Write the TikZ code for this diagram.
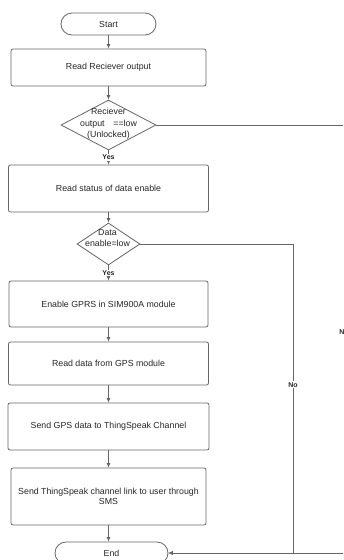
\documentclass[tikz,border=0pt]{standalone}
\usepackage{fontspec}
\setmainfont{Liberation Sans}
\usetikzlibrary{calc}
\usetikzlibrary{arrows.meta}
\usetikzlibrary{shapes.geometric}
\colorlet{border}{black!60}
\colorlet{annotation}{black!85}
\newcommand\pagewidth{343}
\newcommand\pageheight{560}
\newcommand\flowx{108.5}
\newcommand\midrail{293}
\newcommand\rightrail{344}

\begin{document}
\begin{tikzpicture}[x=1pt, y=-1pt, line width=.8pt]
    \useasboundingbox (0, 0) rectangle (\pagewidth, \pageheight);
    \clip (0, 0) rectangle (\pagewidth, \pageheight);

    \tikzset{
        terminal/.style={
            draw=border, rectangle,
            rounded corners=11pt,
            minimum height=22pt,
            text=annotation,
            font=\fontsize{8.8}{10.5}\selectfont,
        },
        process box/.style={
            draw=border, rectangle,
            rounded corners=2pt,
            align=center,
            text=annotation,
            font=\fontsize{8.8}{10.5}\selectfont,
        },
        decision/.style={
            draw=border, diamond,
            inner sep=0pt,
        },
        decision text/.style={
            align=center, inner sep=0pt,
            text=annotation,
            font=\fontsize{8.8}{11.5}\selectfont,
        },
        flow/.style={
            border,
            -{Latex[length=4.5pt, width=4pt]},
        },
        branch tag/.style={
            fill=white, inner sep=1pt,
            text=annotation,
            font=\fontsize{7}{8}\selectfont\bfseries,
        },
    }

    % Terminals
    \node[terminal, minimum width=95pt] (start) at (\flowx, 24) {Start};
    \node[terminal, minimum width=113pt] (end) at (111.5, 553) {End};

    % Steps
    \node[process box, minimum width=195pt, minimum height=37pt]
        (read-receiver) at (\flowx, 67.5) {Read Reciever output};
    \node[process box, minimum width=200pt, minimum height=47pt]
        (read-enable) at (\flowx, 188.5) {Read status of data enable};
    \node[process box, minimum width=199pt, minimum height=46pt]
        (enable-gprs) at (\flowx, 304) {Enable GPRS in SIM900A module};
    \node[process box, minimum width=200pt, minimum height=43pt]
        (read-gps) at (\flowx, 363.5) {Read data from GPS module};
    \node[process box, minimum width=201pt, minimum height=47pt]
        (send-gps) at (\flowx, 426.5) {Send GPS data to ThingSpeak Channel};
    \node[process box, minimum width=195pt, minimum height=57pt]
        (send-link) at (\flowx, 496.5)
        {Send ThingSpeak channel link to user through\\SMS};

    % Checks
    \node[decision, minimum width=95pt, minimum height=50pt]
        (receiver-check) at (\flowx, 125) {};
    \node[decision text] (receiver-check-text) at ($(receiver-check)+(0, -1)$)
        {Reciever\\output\quad ==low\\(Unlocked)};

    \node[decision, minimum width=63pt, minimum height=42pt]
        (enable-check) at (\flowx, 244) {};
    \node[decision text] (enable-check-text) at ($(enable-check)+(-1, -6)$)
        {Data\\enable=low};

    % Main flow
    \draw[flow] (start) -- (read-receiver);
    \draw[flow] (read-receiver) -- (receiver-check);
    \draw[flow] (receiver-check) -- node[branch tag] (receiver-yes) {Yes} (read-enable);
    \draw[flow] (read-enable) -- (enable-check);
    \draw[flow] (enable-check) -- node[branch tag] (enable-yes) {Yes} (enable-gprs);
    \draw[flow] (enable-gprs) -- (read-gps);
    \draw[flow] (read-gps) -- (send-gps);
    \draw[flow] (send-gps) -- (send-link);
    \draw[flow] (send-link) -- (send-link |- end.north);

    % No branches
    \coordinate (enable-rail) at (\midrail, 553);
    \coordinate (receiver-rail) at (\rightrail, 553);

    \draw[flow]
        (enable-check.east)
        -| node[branch tag, pos=.728] (enable-no) {No} (enable-rail)
        -- (end.east);
    \draw[flow]
        (receiver-check.east)
        -| node[branch tag, pos=.742] (receiver-no) {No} (receiver-rail)
        -- (end.east);
\end{tikzpicture}
\end{document}
